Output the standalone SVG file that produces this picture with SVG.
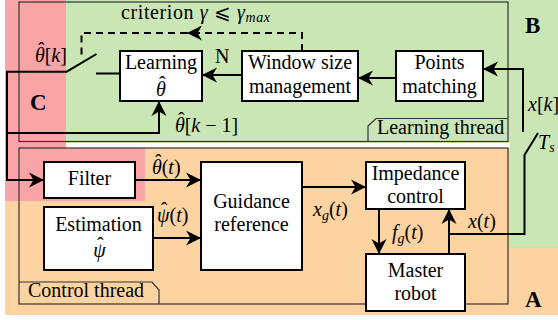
<svg xmlns="http://www.w3.org/2000/svg" width="558" height="320" viewBox="0 0 558 320">
<defs>
<style>
text{font-family:'Liberation Serif','Times New Roman',serif;font-size:20px;fill:#000}
.fr{fill:none;stroke:#333;stroke-width:1.2}
.box{fill:#fff;stroke:#000;stroke-width:2}
.w{fill:none;stroke:#000;stroke-width:2}
.d{fill:none;stroke:#000;stroke-width:2;stroke-dasharray:7 5}
.c{text-anchor:middle}
.i{font-style:italic}
.big{font-weight:bold;font-size:23px}
.sub{font-size:14px;font-style:italic}
</style>
<marker id="ah" markerUnits="userSpaceOnUse" viewBox="-16 -8 17 16" markerWidth="17" markerHeight="16" refX="0" refY="0" orient="auto">
<path d="M0,0 L-15,-7.5 L-10.5,0 L-15,7.5 Z" fill="#000"/>
</marker>
</defs>
<g id="background">
<rect x="5" y="148" width="505" height="167" fill="#fdd3a1"/>
<rect x="510" y="247" width="48" height="68" fill="#fdd3a1"/>
<path d="M66,0 H558 V247 H510 V143 H66 Z" fill="#cae6b5"/>
<path d="M5,0 H66 V148 H145 V201 H5 Z" fill="#f9a5a7"/>
</g>
<g id="frames">
<rect class="fr" x="19" y="2" width="489" height="139.5"/>
<path class="fr" d="M368,141.5 V126 L376,118.5 H508"/>
<text x="377" y="134">Learning thread</text>
<rect class="fr" x="19" y="148" width="489" height="156"/>
<path class="fr" d="M19,282 H152 L159,290 V304"/>
<text x="28" y="297">Control thread</text>
<text class="big" x="525" y="33">B</text>
<text class="big" x="525" y="307">A</text>
<text class="big" x="30" y="110">C</text>
</g>
<g id="connectors">
<path class="w" d="M523,132 V69 H483" marker-end="url(#ah)"/>
<path class="w" d="M396,78 H358" marker-end="url(#ah)"/>
<path class="w" d="M242,75 H202" marker-end="url(#ah)"/>
<path class="d" d="M302,51 V33 H187" marker-end="url(#ah)"/>
<path class="d" d="M187,33 H81.5 V58"/>
<path class="w" d="M96.5,54 L66.7,71.7 H7 V180 H44" marker-end="url(#ah)"/>
<path class="w" d="M96,73.5 H120"/>
<path class="w" d="M7,133 H159 V101" marker-end="url(#ah)"/>
<path class="w" d="M135,180 H201" marker-end="url(#ah)"/>
<path class="w" d="M153,238 H201" marker-end="url(#ah)"/>
<path class="w" d="M302,187 H366" marker-end="url(#ah)"/>
<path class="w" d="M379,209 V254" marker-end="url(#ah)"/>
<path class="w" d="M449,254 V209" marker-end="url(#ah)"/>
<path class="w" d="M449,234 H524.5 V155 L538,133"/>
<text x="121" y="19" letter-spacing="0.6">criterion <tspan class="i">γ</tspan> ⩽ <tspan class="i">γ</tspan><tspan class="sub" dy="3">max</tspan></text>
<text x="215" y="63">N</text>
<text x="35" y="62"><tspan class="i">θ</tspan><tspan dx="-6.8" dy="-5">ˆ</tspan><tspan dy="5">[</tspan><tspan class="i">k</tspan>]</text>
<text x="175" y="132"><tspan class="i">θ</tspan><tspan dx="-6.8" dy="-5">ˆ</tspan><tspan dy="5">[</tspan><tspan class="i">k</tspan> − 1]</text>
<text x="152" y="174"><tspan class="i">θ</tspan><tspan dx="-6.8" dy="-5">ˆ</tspan><tspan dy="5">(</tspan><tspan class="i">t</tspan>)</text>
<text x="157" y="222"><tspan class="i">ψ</tspan><tspan dx="-8.6" dy="-5">ˆ</tspan><tspan dx="2" dy="5">(</tspan><tspan class="i">t</tspan>)</text>
<text x="313" y="216"><tspan class="i">x</tspan><tspan class="sub" dy="4">g</tspan><tspan dy="-4">(</tspan><tspan class="i">t</tspan>)</text>
<text x="392" y="239"><tspan class="i">f</tspan><tspan class="sub" dy="4">g</tspan><tspan dy="-4">(</tspan><tspan class="i">t</tspan>)</text>
<text x="468" y="228"><tspan class="i">x</tspan>(<tspan class="i">t</tspan>)</text>
<text x="528" y="111"><tspan class="i">x</tspan>[<tspan class="i">k</tspan>]</text>
<text x="538" y="149"><tspan class="i">T</tspan><tspan class="sub" dy="3">s</tspan></text>
</g>
<g id="learning">
<rect class="box" x="120" y="51" width="82" height="50"/>
<text class="c" x="161" y="69">Learning</text>
<text class="c" x="161" y="96"><tspan class="i">θ</tspan><tspan dx="-6.8" dy="-5">ˆ</tspan></text>
</g>
<g id="window">
<rect class="box" x="242" y="51" width="116" height="50"/>
<text class="c" x="300" y="69">Window size</text>
<text class="c" x="300" y="93">management</text>
</g>
<g id="points">
<rect class="box" x="396" y="51" width="87" height="50"/>
<text class="c" x="439.5" y="69">Points</text>
<text class="c" x="439.5" y="93">matching</text>
</g>
<g id="filter">
<rect class="box" x="44" y="162" width="91" height="36"/>
<text class="c" x="89.5" y="185">Filter</text>
</g>
<g id="estimation">
<rect class="box" x="44" y="207" width="109" height="63"/>
<text class="c" x="98.5" y="231">Estimation</text>
<text class="c" x="99.5" y="257"><tspan class="i">ψ</tspan><tspan dx="-8.6" dy="-5">ˆ</tspan></text>
</g>
<g id="guidance">
<rect class="box" x="201" y="162" width="101" height="108"/>
<text class="c" x="251.5" y="208">Guidance</text>
<text class="c" x="251.5" y="231">reference</text>
</g>
<g id="impedance">
<rect class="box" x="366" y="162" width="99" height="47"/>
<text class="c" x="415.5" y="180">Impedance</text>
<text class="c" x="415.5" y="203">control</text>
</g>
<g id="master">
<rect class="box" x="366" y="254" width="99" height="57"/>
<text class="c" x="415.5" y="277">Master</text>
<text class="c" x="415.5" y="300">robot</text>
</g>
</svg>
